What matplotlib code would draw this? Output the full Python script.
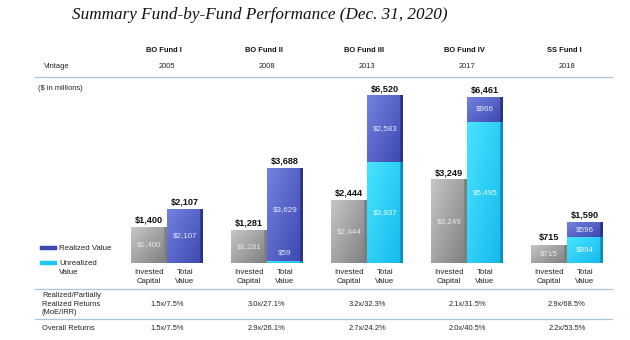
import numpy as np
import matplotlib.pyplot as plt
import matplotlib.transforms as mtransforms
from matplotlib.colors import to_rgb
from matplotlib.lines import Line2D

plt.rcParams['font.family'] = ['Liberation Sans', 'DejaVu Sans']

# data ($ in millions)
funds = ['BO Fund I', 'BO Fund II', 'BO Fund III', 'BO Fund IV', 'SS Fund I']
vintage = ['2005', '2008', '2013', '2017', '2018']
invested = [1400, 1281, 2444, 3249, 715]
unrealized = [0, 59, 3937, 5495, 994]
realized = [2107, 3629, 2583, 966, 596]
total = [2107, 3688, 6520, 6461, 1590]
realized_returns = ['1.5x/7.5%', '3.0x/27.1%', '3.2x/32.3%', '2.1x/31.5%', '2.9x/68.5%']
overall_returns = ['1.5x/7.5%', '2.9x/26.1%', '2.7x/24.2%', '2.0x/40.5%', '2.2x/53.5%']

W, H = 630, 340
fig = plt.figure(figsize=(W / 100, H / 100), dpi=100)

def fx(px):
    return px / W

def fy(py):
    return 1 - py / H

ax = fig.add_axes([fx(35), fy(263), fx(580), (263 - 85) / H])
ax.set_xlim(-1.32, 4.48)
ax.set_ylim(0, 6926)
ax.axis('off')

GRAY = ('#c6c6c6', '#7e7e7e', '#7e7e7e')
BLUE = ('#7382e0', '#3d47b0', '#2a3283')
CYAN = ('#48e4ff', '#14b8ec', '#0a8cbc')


def gradient_bar(x, bottom, height, width, cols):
    # bar filled with a diagonal gradient, darker strip on the right edge
    if height <= 0:
        return
    c0, c1, edge = [np.array(to_rgb(c)) for c in cols]
    n = 40
    u = np.linspace(0, 1, n)
    gx, gy = np.meshgrid(u, u)
    t = np.clip(0.55 * gx + 0.45 * (1 - gy), 0, 1)[..., None]
    img = c0 * (1 - t) + c1 * t
    img[:, -3:] = edge
    rect = plt.Rectangle((x - width / 2, bottom), width, height,
                         facecolor='none', edgecolor='none')
    ax.add_patch(rect)
    im = ax.imshow(img, extent=(x - width / 2, x + width / 2, bottom, bottom + height),
                   origin='lower', aspect='auto', interpolation='bilinear', zorder=2)
    im.set_clip_path(rect)


bw = 0.36
idx = np.arange(len(funds))
for i in idx:
    xi, xt = i - bw / 2, i + bw / 2
    gradient_bar(xi, 0, invested[i], bw, (GRAY[0], GRAY[1], GRAY[1]))
    gradient_bar(xt, 0, unrealized[i], bw, CYAN)
    gradient_bar(xt, unrealized[i], realized[i], bw, BLUE)
    ax.hlines(0, i - 0.42, i + 0.45, color='#e2e2e2', lw=0.8, zorder=1)

    # totals above bars
    ax.text(xi, invested[i] + 90, f'${invested[i]:,}', ha='center', va='bottom',
            fontsize=6.6, fontweight='bold', color='#111111', zorder=3)
    ax.text(xt, total[i] + 90, f'${total[i]:,}', ha='center', va='bottom',
            fontsize=6.6, fontweight='bold', color='#111111', zorder=3)

    # values inside segments
    ax.text(xi, invested[i] / 2, f'${invested[i]:,}', ha='center', va='center',
            fontsize=5.8, color='#e6e6e6', zorder=3)
    if unrealized[i] > 0:
        if unrealized[i] < 400:
            ax.text(xt, unrealized[i] + 180, f'${unrealized[i]:,}', ha='center',
                    va='bottom', fontsize=5.8, color='#e6e8ff', zorder=3)
        else:
            ax.text(xt, unrealized[i] / 2, f'${unrealized[i]:,}', ha='center',
                    va='center', fontsize=5.8, color='#e8fbff', zorder=3)
    ax.text(xt, unrealized[i] + realized[i] / 2 + (200 if unrealized[i] and unrealized[i] < 400 else 0),
            f'${realized[i]:,}', ha='center', va='center', fontsize=5.8,
            color='#e6e8ff', zorder=3)

# text rows placed by fund index horizontally, figure fraction vertically
tr = mtransforms.blended_transform_factory(ax.transData, fig.transFigure)
for i in idx:
    fig.text(i - 0.03, fy(50), funds[i], transform=tr, ha='center', va='center',
             fontsize=5.4, fontweight='bold', color='#111111')
    fig.text(i, fy(66), vintage[i], transform=tr, ha='center', va='center',
             fontsize=5.4, color='#222222')
    fig.text(i - bw / 2, fy(277), 'Invested\nCapital', transform=tr, ha='center',
             va='center', fontsize=5.6, color='#222222', linespacing=1.3)
    fig.text(i + bw / 2, fy(277), 'Total\nValue', transform=tr, ha='center',
             va='center', fontsize=5.6, color='#222222', linespacing=1.3)
    fig.text(i, fy(304), realized_returns[i], transform=tr, ha='center', va='center',
             fontsize=5.4, color='#222222')
    fig.text(i, fy(329), overall_returns[i], transform=tr, ha='center', va='center',
             fontsize=5.4, color='#222222')

fig.text(fx(260), fy(15), 'Summary Fund-by-Fund Performance (Dec. 31, 2020)',
         ha='center', va='center', fontsize=12.3, style='italic',
         family=['Liberation Serif', 'DejaVu Serif'], color='#111111')
fig.text(fx(44), fy(66), 'Vintage', ha='left', va='center', fontsize=5.4, color='#222222')
fig.text(fx(38), fy(88), '($ in millions)', ha='left', va='center', fontsize=5.4,
         color='#222222')
fig.text(fx(42), fy(304), 'Realized/Partially\nRealized Returns\n(MoE/IRR)',
         ha='left', va='center', fontsize=5.4, color='#222222', linespacing=1.3)
fig.text(fx(42), fy(329), 'Overall Returns', ha='left', va='center', fontsize=5.4,
         color='#222222')

for py in (77, 289, 319):
    fig.add_artist(Line2D([fx(35), fx(612)], [fy(py), fy(py)], color='#a9c6de', lw=0.9))

# legend
fig.add_artist(Line2D([fx(42), fx(55)], [fy(248), fy(248)], color='#3c46b0', lw=3.2))
fig.add_artist(Line2D([fx(42), fx(55)], [fy(263), fy(263)], color='#1ec8f4', lw=3.2))
fig.text(fx(59), fy(248), 'Realized Value', ha='left', va='center', fontsize=5.7,
         color='#222222')
fig.text(fx(59), fy(268), 'Unrealized\nValue', ha='left', va='center', fontsize=5.7,
         color='#222222', linespacing=1.3)

fig.savefig('out.png', dpi=100)
